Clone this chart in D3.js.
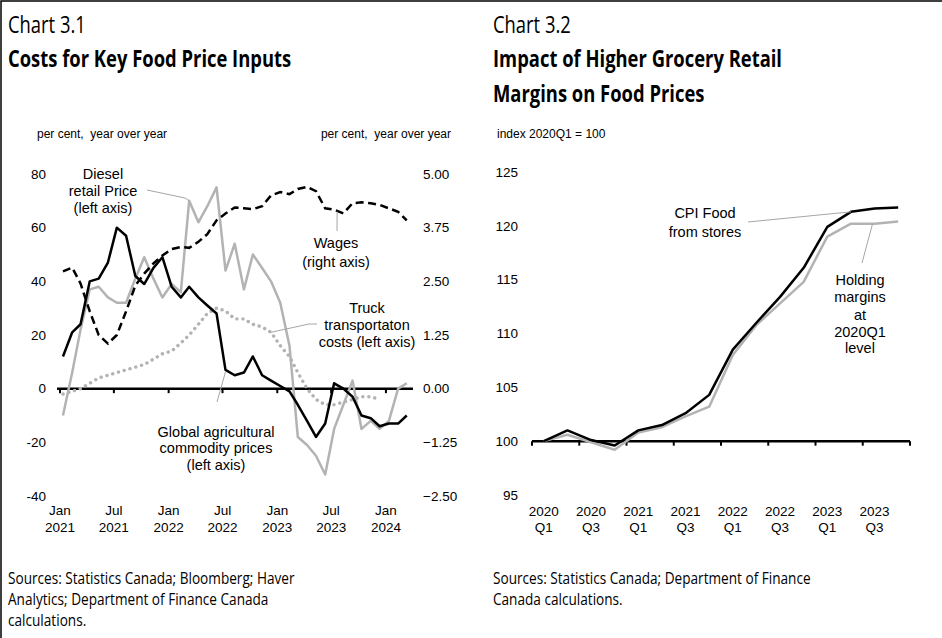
<!DOCTYPE html>
<html>
<head>
<meta charset="utf-8">
<script src="https://cdn.jsdelivr.net/npm/d3@7"></script>
<style>
  body { margin: 0; background: #fff; }
  svg text { font-family: "Liberation Sans", Arial, sans-serif; fill: #000; }
  svg text.seg { font-family: "Open Sans", "Noto Sans", sans-serif; }
  svg text.pre { white-space: pre; }
</style>
</head>
<body>
<div id="chart"></div>
<script>
// ------------------------------ DATA ------------------------------
// Chart 3.1 : monthly, Jan 2021 .. Mar 2024
var firstMonth = new Date(2021, 0, 1),
    lastMonth = new Date(2024, 2, 1);
var agriPrices = [12, 21, 24, 40, 41, 47, 60, 57, 42, 39, 45, 49, 38, 34, 38, 34, 31, 28, 7, 5,
                  6, 12, 5, 3, 1, -1, -6, -12, -18, -13, 2, 0, -3, -10, -11, -14, -13, -13, -10];
var dieselPrice = [-10, 6, 22, 37, 38, 34, 32, 32, 41, 49, 41, 34, 39, 36, 70, 62, 68, 75, 44, 54,
                   37, 50, 45, 40, 32, 16, -18, -21, -25, -32, -15, -6, 3, -15, -12, -15, -12, 0, 2];
var truckCosts = [-2, -1, 0, 2, 4, 5, 6, 7, 8, 9, 11, 13, 14, 17, 20, 24, 28, 30, 29, 26,
                  26, 24, 23, 21, 16, 12, 6, 0, -4, -6, -6, -5, -4, -3, -3, -4, null, null, null];
var wages = [2.73, 2.82, 2.45, 1.8, 1.25, 1.05, 1.25, 1.8, 2.4, 2.68, 2.92, 3.1, 3.25, 3.3, 3.28, 3.42, 3.6, 3.92, 4.08, 4.22,
             4.2, 4.18, 4.25, 4.5, 4.58, 4.53, 4.65, 4.7, 4.6, 4.2, 4.17, 4.08, 4.32, 4.34, 4.32, 4.28, 4.2, 4.12, 3.92];
var leftTicks = [80, 60, 40, 20, 0, -20, -40];
var rightTicks = [5, 3.75, 2.5, 1.25, 0, -1.25, -2.5];
var monthTickLabels = [["Jan", "2021"], ["Jul", "2021"], ["Jan", "2022"], ["Jul", "2022"],
                       ["Jan", "2023"], ["Jul", "2023"], ["Jan", "2024"]];

// Chart 3.2 : quarterly, 2020Q1 .. 2023Q4
var quarters = ["2020Q1", "2020Q2", "2020Q3", "2020Q4", "2021Q1", "2021Q2", "2021Q3", "2021Q4",
                "2022Q1", "2022Q2", "2022Q3", "2022Q4", "2023Q1", "2023Q2", "2023Q3", "2023Q4"];
var cpiFood = [100, 101, 100.1, 99.6, 101, 101.5, 102.6, 104.3, 108.5, 111, 113.4, 116.1, 119.9, 121.3, 121.6, 121.7];
var holdingMargins = [100, 100.6, 99.9, 99.2, 100.8, 101.3, 102.3, 103.2, 108, 110.8, 112.8, 114.8, 119, 120.2, 120.2, 120.4];
var indexTicks = [125, 120, 115, 110, 105, 100, 95];

// ------------------------------ SETUP ------------------------------
var W = 942, H = 638,
    black = "#000000",
    grey = "#b3b3b3",
    leaderGrey = "#a6a6a6",
    tickSize = 13.5,
    noteSize = 14.5,
    condense = 0.8;   // title/source font in the original is narrower than Open Sans

var svg = d3.select("#chart").append("svg")
    .attr("width", W)
    .attr("height", H);

// frame (top and left edges are visible in the original)
svg.append("path")
    .attr("d", "M1," + H + "V1H" + W)
    .attr("fill", "none")
    .attr("stroke", black)
    .attr("stroke-width", 1.5);

function label(x, y, txt, opts) {
    opts = opts || {};
    var t = svg.append("text")
        .attr("x", x)
        .attr("y", y)
        .attr("font-size", opts.size || noteSize)
        .attr("text-anchor", opts.anchor || "start")
        .text(txt);
    if (opts.cls) t.attr("class", opts.cls);
    if (opts.weight) t.attr("font-weight", opts.weight);
    if (opts.cls === "seg") {
        t.attr("textLength", t.node().getComputedTextLength() * condense)
         .attr("lengthAdjust", "spacingAndGlyphs");
    }
    return t;
}

function leader(points) {
    svg.append("path")
        .attr("d", d3.line()(points))
        .attr("fill", "none")
        .attr("stroke", leaderGrey)
        .attr("stroke-width", 1);
}

// ------------------------------ TITLES / SOURCES ------------------------------
label(8, 33, "Chart 3.1", {cls: "seg", size: 23});
label(8, 67, "Costs for Key Food Price Inputs", {cls: "seg", size: 23, weight: 700});
label(493, 33, "Chart 3.2", {cls: "seg", size: 23});
label(493, 67, "Impact of Higher Grocery Retail", {cls: "seg", size: 23, weight: 700});
label(493, 102, "Margins on Food Prices", {cls: "seg", size: 23, weight: 700});

label(8, 584, "Sources: Statistics Canada; Bloomberg; Haver", {cls: "seg", size: 17});
label(8, 605, "Analytics; Department of Finance Canada", {cls: "seg", size: 17});
label(8, 626, "calculations.", {cls: "seg", size: 17});
label(493, 584, "Sources: Statistics Canada; Department of Finance", {cls: "seg", size: 17});
label(493, 605, "Canada calculations.", {cls: "seg", size: 17});

// ------------------------------ CHART 3.1 ------------------------------
var x1 = d3.scaleTime()
    .domain([firstMonth, d3.timeMonth.offset(lastMonth, 1)])
    .range([60, 413]);
var yL = d3.scaleLinear().domain([-40, 80]).range([496, 174]);
var yW = d3.scaleLinear().domain([-2.5, 5]).range([496, 174]);

var months = d3.timeMonth.range(firstMonth, d3.timeMonth.offset(lastMonth, 1));
// monthly values sit about a third of the way into each month on the date axis
function mx(i) { return x1(d3.timeDay.offset(months[i], 10)); }

label(37, 138, "per cent,  year over year", {size: 12, cls: "pre"});
label(451, 138, "per cent,  year over year", {size: 12, anchor: "end", cls: "pre"});

svg.selectAll("text.yl")
    .data(leftTicks).enter().append("text")
    .attr("class", "yl")
    .attr("x", 46).attr("y", function (d) { return yL(d); })
    .attr("dy", "0.35em").attr("text-anchor", "end").attr("font-size", tickSize)
    .text(function (d) { return d; });

svg.selectAll("text.yr")
    .data(rightTicks).enter().append("text")
    .attr("class", "yr")
    .attr("x", 423).attr("y", function (d) { return yW(d); })
    .attr("dy", "0.35em").attr("font-size", tickSize)
    .text(function (d) { return d3.format(".2f")(d); });

// zero line + ticks
var tickDates = monthTickLabels.map(function (d) {
    return new Date(+d[1], d[0] === "Jan" ? 0 : 6, 1);
});
svg.append("line")
    .attr("x1", 57).attr("x2", x1.range()[1])
    .attr("y1", yL(0)).attr("y2", yL(0))
    .attr("stroke", black).attr("stroke-width", 2.5);
svg.selectAll("line.xt1")
    .data(tickDates).enter().append("line")
    .attr("class", "xt1")
    .attr("x1", function (d) { return x1(d); }).attr("x2", function (d) { return x1(d); })
    .attr("y1", yL(0)).attr("y2", yL(0) + 4.5)
    .attr("stroke", black).attr("stroke-width", 2);

var xl1 = svg.selectAll("g.xl1")
    .data(monthTickLabels).enter().append("g")
    .attr("class", "xl1");
xl1.append("text")
    .attr("x", function (d, i) { return x1(tickDates[i]); })
    .attr("y", 515).attr("text-anchor", "middle").attr("font-size", tickSize)
    .text(function (d) { return d[0]; });
xl1.append("text")
    .attr("x", function (d, i) { return x1(tickDates[i]); })
    .attr("y", 532).attr("text-anchor", "middle").attr("font-size", tickSize)
    .text(function (d) { return d[1]; });

function monthLine(yScale) {
    return d3.line()
        .defined(function (d) { return d != null; })
        .x(function (d, i) { return mx(i); })
        .y(function (d) { return yScale(d); });
}

// truck transportation (dotted grey)
svg.append("path")
    .datum(truckCosts)
    .attr("d", monthLine(yL))
    .attr("fill", "none")
    .attr("stroke", grey)
    .attr("stroke-width", 3.4)
    .attr("stroke-linecap", "round")
    .attr("stroke-dasharray", "0.1 5.9");

// diesel (solid grey)
svg.append("path")
    .datum(dieselPrice)
    .attr("d", monthLine(yL))
    .attr("fill", "none")
    .attr("stroke", grey)
    .attr("stroke-width", 2.5)
    .attr("stroke-linejoin", "round");

// wages (dashed black, right axis)
svg.append("path")
    .datum(wages)
    .attr("d", monthLine(yW))
    .attr("fill", "none")
    .attr("stroke", black)
    .attr("stroke-width", 2.5)
    .attr("stroke-dasharray", "8 4.5");

// agricultural commodities (solid black)
svg.append("path")
    .datum(agriPrices)
    .attr("d", monthLine(yL))
    .attr("fill", "none")
    .attr("stroke", black)
    .attr("stroke-width", 2.5)
    .attr("stroke-linejoin", "round");

// annotations
[["Diesel", 174], ["retail Price", 191], ["(left axis)", 208]].forEach(function (d) {
    label(103, d[1] + 5, d[0], {anchor: "middle"});
});
leader([[147, 190], [185, 198], [mx(14), yL(dieselPrice[14])]]);

[["Wages", 243], ["(right axis)", 262]].forEach(function (d) {
    label(336, d[1] + 5, d[0], {anchor: "middle"});
});
leader([[mx(30) + 3, yW(wages[30]) + 2], [337, 231]]);

[["Truck", 308], ["transportaton", 325], ["costs (left axis)", 342]].forEach(function (d) {
    label(367, d[1] + 5, d[0], {anchor: "middle"});
});
leader([[mx(23), yL(truckCosts[23])], [309, 324], [317, 324]]);

[["Global agricultural", 432], ["commodity prices", 448], ["(left axis)", 465]].forEach(function (d) {
    label(216, d[1] + 5, d[0], {anchor: "middle"});
});
leader([[217, 402], [mx(18), yL(agriPrices[18]) + 2]]);

// ------------------------------ CHART 3.2 ------------------------------
var x2 = d3.scaleBand().domain(quarters).range([532, 910]);
var y2 = d3.scaleLinear().domain([95, 125]).range([495, 172]);
function qx(d, i) { return x2(quarters[i]) + x2.bandwidth() / 2; }

label(497, 138, "index 2020Q1 = 100", {size: 12});

svg.selectAll("text.y2")
    .data(indexTicks).enter().append("text")
    .attr("class", "y2")
    .attr("x", 518).attr("y", function (d) { return y2(d); })
    .attr("dy", "0.35em").attr("text-anchor", "end").attr("font-size", tickSize)
    .text(function (d) { return d; });

svg.append("line")
    .attr("x1", x2.range()[0]).attr("x2", x2.range()[1])
    .attr("y1", y2(100)).attr("y2", y2(100))
    .attr("stroke", black).attr("stroke-width", 2.5);

var tickEdges = quarters.filter(function (d, i) { return i % 2 === 0; })
    .map(function (d) { return x2(d); })
    .concat([x2.range()[1]]);
svg.selectAll("line.xt2")
    .data(tickEdges).enter().append("line")
    .attr("class", "xt2")
    .attr("x1", function (d) { return d; }).attr("x2", function (d) { return d; })
    .attr("y1", y2(100)).attr("y2", y2(100) + 4.5)
    .attr("stroke", black).attr("stroke-width", 2);

var labelled = quarters.filter(function (d, i) { return i % 2 === 0; });
var xl2 = svg.selectAll("g.xl2")
    .data(labelled).enter().append("g")
    .attr("class", "xl2");
xl2.append("text")
    .attr("x", function (d) { return x2(d) + x2.bandwidth() / 2; })
    .attr("y", 516).attr("text-anchor", "middle").attr("font-size", tickSize)
    .text(function (d) { return d.slice(0, 4); });
xl2.append("text")
    .attr("x", function (d) { return x2(d) + x2.bandwidth() / 2; })
    .attr("y", 532).attr("text-anchor", "middle").attr("font-size", tickSize)
    .text(function (d) { return d.slice(4); });

var qLine = d3.line().x(qx).y(function (d) { return y2(d); });

svg.append("path")
    .datum(holdingMargins)
    .attr("d", qLine)
    .attr("fill", "none")
    .attr("stroke", grey)
    .attr("stroke-width", 2.5)
    .attr("stroke-linejoin", "round");

svg.append("path")
    .datum(cpiFood)
    .attr("d", qLine)
    .attr("fill", "none")
    .attr("stroke", black)
    .attr("stroke-width", 2.5)
    .attr("stroke-linejoin", "round");

[["CPI Food", 213], ["from stores", 232]].forEach(function (d) {
    label(705, d[1] + 5, d[0], {anchor: "middle"});
});
leader([[748, 222], [qx(null, 13), y2(cpiFood[13])]]);

[["Holding", 280], ["margins", 297], ["at", 315], ["2020Q1", 332], ["level", 348]].forEach(function (d) {
    label(860, d[1] + 5, d[0], {anchor: "middle"});
});
leader([[862, 263], [qx(null, 14) - 2, y2(holdingMargins[14])]]);
</script>
</body>
</html>
